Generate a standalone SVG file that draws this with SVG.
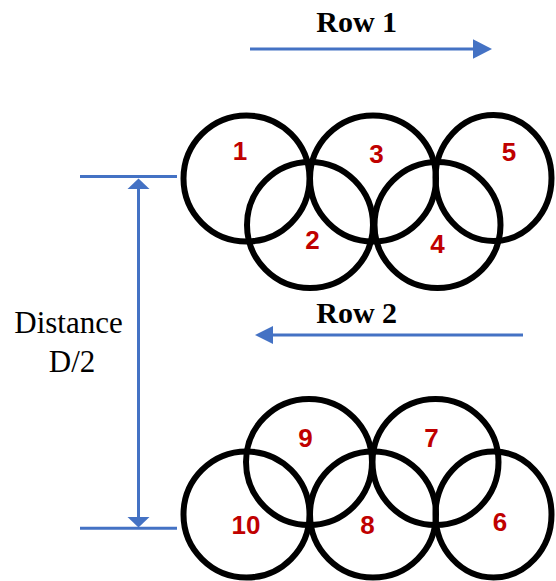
<svg xmlns="http://www.w3.org/2000/svg" width="556" height="581" viewBox="0 0 556 581">
<style>
.ring{fill:none;stroke:#000;stroke-width:6}
.num{font-family:"Liberation Sans",Arial,sans-serif;font-weight:bold;font-size:26px;fill:#C00000;text-anchor:middle}
.lbl{font-family:"Liberation Serif","Times New Roman",serif;fill:#000;text-anchor:middle}
.blue{stroke:#4472C4;stroke-width:3;fill:none}
.head{fill:#4472C4}
</style>
<rect width="556" height="581" fill="#fff"/>
<g id="connectors">
<line class="blue" x1="250" y1="49" x2="475" y2="49"/>
<polygon class="head" points="473,39.3 492,49 473,58.7"/>
<line class="blue" x1="523" y1="335" x2="271" y2="335"/>
<polygon class="head" points="273,326 255,335 273,344"/>
<line class="blue" x1="80" y1="176.5" x2="177" y2="176.5"/>
<line class="blue" x1="80" y1="528.3" x2="177" y2="528.3"/>
<line class="blue" x1="138.5" y1="187" x2="138.5" y2="519"/>
<polygon class="head" points="127.5,189 138.5,178.5 149.5,189"/>
<polygon class="head" points="127.5,517 138.5,527.5 149.5,517"/>
</g>
<g id="labels">
<text class="lbl" x="356.7" y="32.3" font-size="30" font-weight="bold">Row 1</text>
<text class="lbl" x="356.7" y="323.3" font-size="30" font-weight="bold">Row 2</text>
<text class="lbl" x="68.5" y="333" font-size="31">Distance</text>
<text class="lbl" x="72" y="371.5" font-size="31">D/2</text>
</g>
<g id="n1"><circle class="ring" cx="246.5" cy="178.5" r="63"/><text class="num" x="240" y="159.5">1</text></g>
<g id="n3"><circle class="ring" cx="373" cy="178.5" r="63"/><text class="num" x="376.5" y="163">3</text></g>
<g id="n5"><ellipse class="ring" cx="493.5" cy="178" rx="58" ry="63"/><text class="num" x="509" y="160.7">5</text></g>
<g id="n2"><circle class="ring" cx="310" cy="225" r="63"/><text class="num" x="312.5" y="249">2</text></g>
<g id="n4"><circle class="ring" cx="437.5" cy="225" r="63"/><text class="num" x="437.5" y="253">4</text></g>
<g id="n9"><circle class="ring" cx="309" cy="462" r="63"/><text class="num" x="305.5" y="447">9</text></g>
<g id="n7"><circle class="ring" cx="435.5" cy="462" r="63"/><text class="num" x="431.5" y="446.7">7</text></g>
<g id="n10"><circle class="ring" cx="246.5" cy="514.5" r="63"/><text class="num" x="246" y="534">10</text></g>
<g id="n8"><circle class="ring" cx="373" cy="514.5" r="63"/><text class="num" x="367.5" y="534">8</text></g>
<g id="n6"><ellipse class="ring" cx="493.5" cy="514.5" rx="58" ry="63"/><text class="num" x="500" y="530.7">6</text></g>
</svg>
